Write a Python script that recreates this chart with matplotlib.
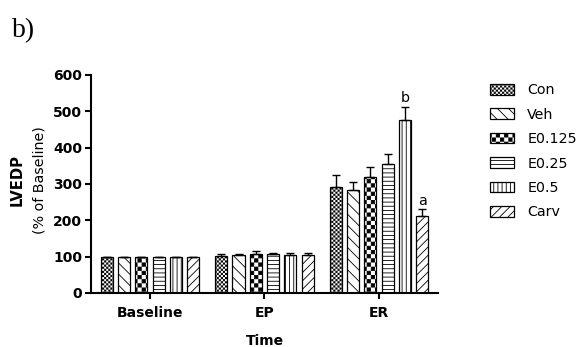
import warnings
import numpy as np
import matplotlib
matplotlib.use('Agg')
import matplotlib.pyplot as plt
import matplotlib.hatch as mhatch
from matplotlib.path import Path

warnings.filterwarnings('ignore')

# data
groups = ['Baseline', 'EP', 'ER']
series = ['Con', 'Veh', 'E0.125', 'E0.25', 'E0.5', 'Carv']
con = [100, 102, 291]
veh = [100, 103, 283]
e0125 = [100, 107, 319]
e025 = [100, 106, 356]
e05 = [100, 103, 475]
carv = [100, 105, 211]
con_err = [0, 5, 33]
veh_err = [0, 5, 23]
e0125_err = [0, 8, 27]
e025_err = [0, 5, 27]
e05_err = [0, 8, 38]
carv_err = [0, 5, 20]
letters = {'E0.5': 'b', 'Carv': 'a'}

HATCH_LW = 0.6


class CheckerHatch(mhatch.HatchPatternBase):
    '''checkerboard fill, one 'c' = density cells per unit'''
    filled = True

    def __init__(self, hatch, density):
        self.n = int(hatch.count('c') * density)
        self.cells = [(i, j) for i in range(self.n) for j in range(self.n)
                      if (i + j) % 2 == 0]
        self.num_vertices = len(self.cells) * 5

    def set_vertices_and_codes(self, vertices, codes):
        s = 1.0 / self.n
        # shrink by half the stroke so the outline doesn't fatten squares
        d = HATCH_LW / 72.0 / 2.0
        k = 0
        for i, j in self.cells:
            x0, y0 = i * s + d, j * s + d
            x1, y1 = (i + 1) * s - d, (j + 1) * s - d
            vertices[k:k + 5] = [(x0, y0), (x1, y0), (x1, y1), (x0, y1),
                                 (x0, y0)]
            codes[k:k + 5] = [Path.MOVETO, Path.LINETO, Path.LINETO,
                              Path.LINETO, Path.CLOSEPOLY]
            k += 5


mhatch._hatch_types.append(CheckerHatch)

plt.rcParams['font.family'] = ['DejaVu Sans']
plt.rcParams['hatch.linewidth'] = HATCH_LW

fig = plt.figure(figsize=(5.87, 3.47), dpi=100)
ax = fig.add_axes([0.155, 0.156, 0.591, 0.628])

vals = [con, veh, e0125, e025, e05, carv]
errs = [con_err, veh_err, e0125_err, e025_err, e05_err, carv_err]
hatches = ['cccccccc', '\\\\\\', 'cccc', '----', '||||', '////']

x = np.arange(len(groups))
step = 0.151
width = 0.105
handles = []
for i, name in enumerate(series):
    pos = x + (i - 2.5) * step
    b = ax.bar(pos, vals[i], width, color='white', edgecolor='black',
               linewidth=0.9, hatch=hatches[i], label=name,
               yerr=[np.zeros(len(groups)), errs[i]],
               error_kw=dict(capsize=3, elinewidth=1, capthick=1,
                             ecolor='black'))
    handles.append(b)
    if name in letters:
        top = vals[i][-1] + errs[i][-1]
        ax.text(pos[-1], top + 3, letters[name], ha='center', va='bottom',
                fontsize=10.3)

ax.set_xlim(-0.515, 2.515)
ax.set_ylim(0, 600)
ax.set_yticks(range(0, 601, 100))
ax.set_xticks(x)
ax.set_xticklabels(groups)
for s in ['top', 'right']:
    ax.spines[s].set_visible(False)
for s in ['left', 'bottom']:
    ax.spines[s].set_linewidth(1.5)
ax.tick_params(width=1.5, length=4.5, labelsize=10)
ax.tick_params(axis='y', pad=2)
ax.tick_params(axis='x', pad=5)
for lab in ax.get_xticklabels() + ax.get_yticklabels():
    lab.set_fontweight('bold')

ax.set_xlabel('Time', fontweight='bold', fontsize=10, labelpad=10)
fig.text(0.03, 0.48, 'LVEDP', rotation=90, ha='center', va='center',
         fontweight='bold', fontsize=10.6)
fig.text(0.067, 0.48, '(% of Baseline)', rotation=90, ha='center',
         va='center', fontsize=10.3)
fig.text(0.02, 0.893, 'b)', fontsize=20, family='Liberation Serif',
         va='baseline')

fig.legend(handles=handles, loc='upper left', bbox_to_anchor=(0.835, 0.76),
           frameon=False, fontsize=10.3, handlelength=1.7, handleheight=0.75,
           labelspacing=0.73, handletextpad=0.9, borderaxespad=0,
           borderpad=0)

fig.savefig('out.png', dpi=100)
